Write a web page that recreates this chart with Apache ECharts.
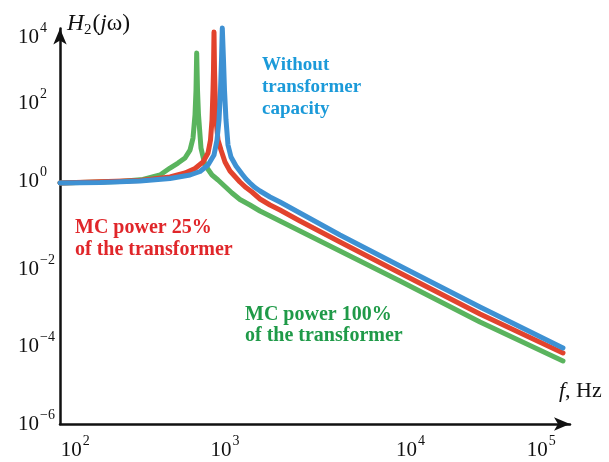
<!DOCTYPE html>
<html><head><meta charset="utf-8">
<script src="https://cdn.jsdelivr.net/npm/echarts@6/dist/echarts.min.js"></script>
<style>html,body{margin:0;padding:0;background:#fff}#c{width:609px;height:462px}</style>
</head><body><div id="c"></div>
<script>
// Frequencies (Hz) and |H2(jw)|
const freqNoCap = [80,143,255.6,395.2,528.3,610.7,686.1,748.5,781.9,804.8,822.6,834.6,844.3,859.0,871.6,890.9,917.1,957.9,1030,1124,1191,1262,1357,1459,1688,1951,2608,4662,11140,35590,118750];
const hNoCap    = [1.69,1.74,1.90,2.21,2.72,3.35,4.93,8.93,21.8,71.6,427,2550,17100,2550,427,71.6,16.2,7.93,4.64,2.88,2.14,1.69,1.29,1.05,0.735,0.544,0.283,0.0766,0.0121,0.00105,9.21e-5];

const freqMC25 = [80,255.6,395.2,491.3,568.0,637.9,686.1,711.4,727.1,737.7,743.0,748.5,754.1,759.5,770.6,793.3,828.5,878.1,944.1,1091,1191,1299,1459,1688,1951,2608,4662,11140,35590,118750];
const hMC25    = [1.69,1.96,2.41,3.06,4.00,5.89,10.07,21.8,71.6,427,1400,13500,1400,427,71.6,21.8,12.0,5.89,3.44,1.79,1.29,0.989,0.652,0.456,0.339,0.176,0.0505,0.00798,0.000695,6.84e-5];

const freqMC100 = [80,191.2,266.9,341.7,395.2,443.8,491.3,528.3,551.8,568.0,576.4,582.1,589.0,597.6,619.6,656.7,727.1,793.3,971.8,1091,1262,1459,1688,1951,2608,3486,11140,35590,118750];
const hMC100    = [1.69,1.85,2.08,2.72,4.12,5.55,7.47,12.0,24.5,96.4,427,3860,427,96.4,13.5,4.93,2.72,2.02,0.931,0.632,0.456,0.319,0.237,0.176,0.0970,0.0536,0.00495,0.000433,4.25e-5];

const xTickExponents = [2,3,4,5];
const yTickExponents = [-6,-4,-2,0,2,4];

const seriesNames = ['MC power 100% of the transformer','MC power 25% of the transformer','Without transformer capacity'];
const lineColors = ['#5ab45e','#e2432d','#3e91d3'];
const textColors = ['#1f9a48','#e0262a','#1b9ad9'];

// label nudges (layout only) to follow the hand-placed labels of the original
const xLabelShift = {2:0, 3:-9, 4:18, 5:-10};
const yLabelShift = {4:0, 2:11, 0:10, '-2':0, '-4':0, '-6':0};

const serif = 'Liberation Serif';
function pairs(f, h){ return f.map((v,i)=>[v,h[i]]); }
function keyOf(k){ return String(k).replace('-', 'm'); }
function buildRich(prefix, shifts, horizontal){
  const r = {
    b:{fontFamily:serif,fontSize:21,lineHeight:32,color:'#111'},
    s:{fontFamily:serif,fontSize:14,lineHeight:12,verticalAlign:'top',color:'#111',padding:[0,0,0,1]}
  };
  Object.keys(shifts).forEach(k=>{
    const s = shifts[k], key = keyOf(k);
    if (horizontal) {
      r['b'+key] = {fontFamily:serif,fontSize:21,lineHeight:32,color:'#111',padding:[0,0,0,s>0?2*s:0]};
      r['s'+key] = {fontFamily:serif,fontSize:14,lineHeight:12,verticalAlign:'top',color:'#111',padding:[0,s<0?-2*s:0,0,1]};
    } else {
      r['b'+key] = r.b; r['s'+key] = r.s;
      r['g'+key] = {fontSize:1,lineHeight:Math.max(2*s,1),color:'rgba(0,0,0,0)'};
    }
  });
  return r;
}
function powLabel(allowed, shifts, horizontal){
  return function(v){
    const e = Math.log10(v), r = Math.round(e);
    if (Math.abs(e - r) > 1e-6 || allowed.indexOf(r) < 0) return '';
    const key = keyOf(r);
    let t = '{b'+key+'|10}{s'+key+'|' + String(r).replace('-', '\u2212') + '}';
    if (!horizontal && shifts[r]) t += '\n{g'+key+'|\u00a0}';
    return t;
  };
}
const axisLine = {show:true,lineStyle:{color:'#111',width:2.5},symbol:['none','arrow'],symbolSize:[10,16]};

const chart = echarts.init(document.getElementById('c'));
const datasets = [pairs(freqMC100,hMC100), pairs(freqMC25,hMC25), pairs(freqNoCap,hNoCap)];
chart.setOption({
  animation:false,
  backgroundColor:'#fff',
  grid:{left:60,right:39,top:28.5,bottom:38,containLabel:false},
  xAxis:{type:'log',logBase:10,min:80,max:131500,
    axisLine:axisLine,axisTick:{show:false},splitLine:{show:false},
    axisLabel:{formatter:powLabel(xTickExponents,xLabelShift,true),rich:buildRich('x',xLabelShift,true),margin:10,showMinLabel:true,showMaxLabel:true,hideOverlap:false}},
  yAxis:{type:'log',logBase:100,min:1e-6,max:16600,
    axisLine:axisLine,axisTick:{show:false},splitLine:{show:false},
    axisLabel:{formatter:powLabel(yTickExponents,yLabelShift,false),rich:buildRich('y',yLabelShift,false),margin:42,align:'left',showMinLabel:true,showMaxLabel:true,hideOverlap:false}},
  series: datasets.map((d,i)=>({
    name:seriesNames[i],type:'line',data:d,showSymbol:false,symbol:'none',clip:false,
    smooth:false,
    lineStyle:{color:lineColors[i],width:5,join:'round',cap:'round'},z:2+i
  })),
  graphic:[
    {type:'text',left:67,top:12,style:{text:'{i|H}{sub|2}{r|(}{i|j}{r|\u03c9)}',rich:{
      i:{fontFamily:serif,fontStyle:'italic',fontSize:23.5,fill:'#111',lineHeight:28},
      r:{fontFamily:serif,fontSize:23.5,fill:'#111',lineHeight:28},
      sub:{fontFamily:serif,fontSize:15,fill:'#111',lineHeight:16,verticalAlign:'bottom',padding:[0,1,0,0]}}}},
    {type:'text',left:559,top:380,style:{text:'{i|f}{r|, Hz}',rich:{
      i:{fontFamily:serif,fontStyle:'italic',fontSize:22,fill:'#111'},
      r:{fontFamily:serif,fontSize:22,fill:'#111'}}}},
    {type:'text',x:262,y:65,style:{text:'Without',font:'bold 19px "Liberation Serif"',fill:textColors[2],textVerticalAlign:'middle'}},
    {type:'text',x:262,y:87.5,style:{text:'transformer',font:'bold 19px "Liberation Serif"',fill:textColors[2],textVerticalAlign:'middle'}},
    {type:'text',x:262,y:109.5,style:{text:'capacity',font:'bold 19px "Liberation Serif"',fill:textColors[2],textVerticalAlign:'middle'}},
    {type:'text',x:75,y:228,style:{text:'MC power 25%',font:'bold 20px "Liberation Serif"',fill:textColors[1],textVerticalAlign:'middle'}},
    {type:'text',x:75,y:250,style:{text:'of the transformer',font:'bold 20px "Liberation Serif"',fill:textColors[1],textVerticalAlign:'middle'}},
    {type:'text',x:245,y:315,style:{text:'MC power 100%',font:'bold 20px "Liberation Serif"',fill:textColors[0],textVerticalAlign:'middle'}},
    {type:'text',x:245,y:336,style:{text:'of the transformer',font:'bold 20px "Liberation Serif"',fill:textColors[0],textVerticalAlign:'middle'}}
  ]
});
</script></body></html>
